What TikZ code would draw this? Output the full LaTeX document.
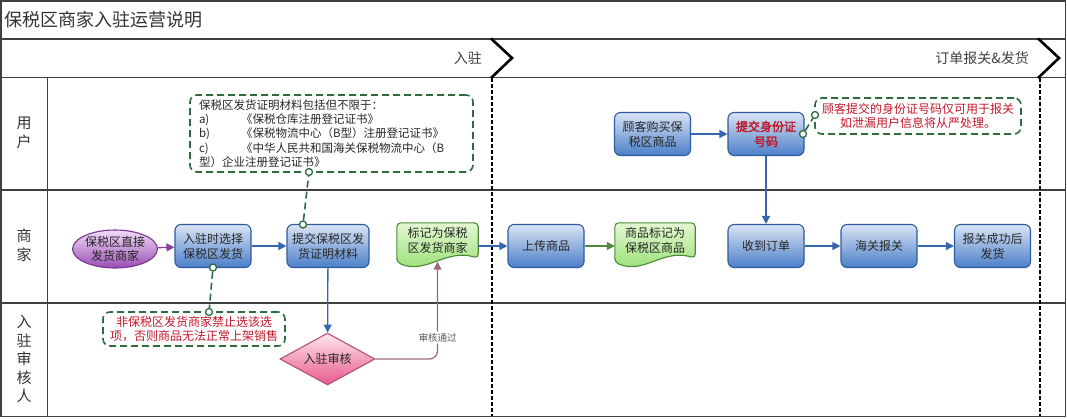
\documentclass[tikz,border=0pt]{standalone}
\usepackage{fontspec}
\setmainfont{Noto Sans CJK SC}
\newfontfamily\boldcjk{Noto Sans CJK SC}[FakeBold=2.5]
\usetikzlibrary{arrows.meta,shapes.geometric,calc}
\pgfdeclarelayer{bg}
\pgfsetlayers{bg,main}
\definecolor{frame}{HTML}{404040}
\definecolor{boxtop}{HTML}{DAE4F3}
\definecolor{boxbot}{HTML}{4A7FC9}
\definecolor{boxline}{HTML}{2F5B9E}
\definecolor{arrowblue}{HTML}{3566B0}
\definecolor{doctop}{HTML}{E4F8D2}
\definecolor{docbot}{HTML}{90DC6A}
\definecolor{docline}{HTML}{4C8A35}
\definecolor{arrowgreen}{HTML}{4E8A3C}
\definecolor{elltop}{HTML}{F0DCF6}
\definecolor{ellbot}{HTML}{9A4DB3}
\definecolor{elline}{HTML}{7A3592}
\definecolor{arrowpurple}{HTML}{8A3FA0}
\definecolor{dtop}{HTML}{FDE6EE}
\definecolor{dbot}{HTML}{E8588C}
\definecolor{dline}{HTML}{B25275}
\definecolor{mauve}{HTML}{9B6A7A}
\definecolor{callgreen}{HTML}{2E6B3F}
\definecolor{redtext}{HTML}{C0182A}
\begin{document}
\begin{tikzpicture}[x=1pt,y=-1pt,
  bluebox/.style={draw=boxline,line width=1.1pt,rounded corners=6pt,top color=boxtop,bottom color=boxbot,minimum width=76pt,minimum height=43pt,align=center,inner sep=1pt,text=black!85,font=\fontsize{12}{15}\selectfont},
  docnode/.style={minimum width=81pt,minimum height=35pt,align=center,inner sep=1pt,text=black!85,font=\fontsize{12}{15}\selectfont},
  docshape/.style={draw=docline,line width=1.1pt,top color=doctop,bottom color=docbot,rounded corners=4pt},
  ellnode/.style={ellipse,draw=elline,line width=1.1pt,top color=elltop,bottom color=ellbot,minimum width=76pt,minimum height=38pt,inner sep=0pt,align=center,font=\fontsize{12}{14}\selectfont,text=black!85},
  diam/.style={diamond,draw=dline,line width=1.1pt,top color=dtop,bottom color=dbot,minimum width=95pt,minimum height=52pt,inner sep=0pt,aspect=1.8,font=\fontsize{12}{14}\selectfont,text=black!85},
  callout/.style={draw=callgreen,line width=1.6pt,dash pattern=on 7pt off 4pt,rounded corners=7pt,inner sep=2pt},
  endc/.style={circle,draw=callgreen,fill=white,line width=1.3pt,minimum size=7pt,inner sep=0pt},
  calline/.style={draw=callgreen,line width=1.6pt,dash pattern=on 7pt off 4pt},
  flow/.style={draw=arrowblue,line width=1.3pt,-{Triangle[length=8pt,width=8pt]}},
  lanelabel/.style={font=\fontsize{15}{18.5}\selectfont,align=center,text=black!80},
  frameline/.style={draw=frame,line width=1.5pt},
  phase/.style={anchor=east,font=\fontsize{14}{16}\selectfont,text=black!75,inner sep=0pt},
  chev/.style={line width=2.6pt,line join=miter},
  dotline/.style={line width=2.6pt,dash pattern=on 3.5pt off 2.5pt},
]
\useasboundingbox (0,0) rectangle (1067,418);
% frame
\draw[frameline] (0.75,0.75) rectangle (1065.5,416.5);
\draw[frameline] (0.75,39) -- (1065.5,39);
\draw[frameline] (0.75,77.5) -- (1065.5,77.5);
\draw[frameline] (0.75,190) -- (1065.5,190);
\draw[frameline] (0.75,303) -- (1065.5,303);
\draw[frameline] (47.5,77.5) -- (47.5,416.5);
% title and phases
\node[anchor=west,font=\fontsize{18}{20}\selectfont,text=black!80,inner sep=0pt] (title) at (4,20) {保税区商家入驻运营说明};
\node[phase] (ph1) at (482,58) {入驻};
\node[phase] (ph2) at (1029,58) {订单报关\&发货};
\draw[chev] (491,38.5) -- (512,58) -- (491,78);
\draw[chev] (1038,38.5) -- (1059,58) -- (1038,78);
\draw[dotline] (492,78) -- (492,416);
\draw[dotline] (1040,78) -- (1040,416);
% lane labels
\node[lanelabel] (l1) at (24,133) {用\\户};
\node[lanelabel] (l2) at (24,245) {商\\家};
\node[lanelabel] (l3) at (24,359) {入\\驻\\审\\核\\人};
% merchant lane
\node[ellnode] (m0) at (115,249) {保税区直接\\发货商家};
\node[bluebox] (m1) at (213,246) {入驻时选择\\保税区发货};
\node[bluebox,minimum width=82pt] (m2) at (328,246) {提交保税区发\\货证明材料};
\node[docnode] (m3) at (437.5,240.5) {标记为保税\\区发货商家};
\node[bluebox] (m4) at (546,246) {上传商品};
\node[docnode,minimum width=80pt] (m5) at (655,240.5) {商品标记为\\保税区商品};
\node[bluebox] (m6) at (766,246) {收到订单};
\node[bluebox] (m7) at (879,246) {海关报关};
\node[bluebox] (m8) at (992.5,246) {报关成功后\\发货};
% user lane
\node[bluebox] (u1) at (652.5,134) {顾客购买保\\税区商品};
\node[bluebox,text=redtext,font=\boldcjk\fontsize{12}{15}\selectfont] (u2) at (766,134) {提交身份证\\号码};
% reviewer lane
\node[diam] (r1) at (327.5,359) {入驻审核};
% document shapes
\begin{pgfonlayer}{bg}
\foreach \d in {m3,m5}{
  \path[docshape] ($(\d.south west)+(0,4)$) -- (\d.north west) -- (\d.north east) -- (\d.south east)
    .. controls ($(\d.south east)!0.4!(\d.south west)+(0,-10)$) and ($(\d.south east)!0.65!(\d.south west)+(0,17)$) .. ($(\d.south west)+(0,4)$) -- cycle;
}
\end{pgfonlayer}
% flows
\draw[flow,draw=arrowpurple] (m0) -- (m1);
\draw[flow] (m1) -- (m2);
\draw[flow] (m3.east |- m4.west) -- (m4.west);
\draw[flow,draw=arrowgreen] (m4.east) -- (m5.west |- m4.east);
\draw[flow] (m6) -- (m7);
\draw[flow] (m7) -- (m8);
\draw[flow] (u1) -- (u2);
\draw[flow] (u2) -- (m6);
\draw[flow] (m2) -- (r1);
\coordinate (m3b) at ($(m3.south)+(0,3.5)$);
\draw[draw=mauve,line width=1.3pt,rounded corners=8pt,-{Triangle[length=8pt,width=8pt]}] (r1.east) -| (m3b)
  node[pos=0.61,fill=white,inner sep=1.5pt,font=\fontsize{9.5}{11}\selectfont,text=black!65] (lbl) {审核通过};
% callouts
\node[callout,minimum width=283pt,minimum height=77pt,text width=265pt,align=left,inner sep=0pt,font=\fontsize{11.5}{14.3}\selectfont,text=black!85] (c1) at (331.5,133.5)
{保税区发货证明材料包括但不限于：\\
\makebox[42pt][l]{a)}《保税仓库注册登记证书》\\
\makebox[42pt][l]{b)}《保税物流中心（B型）注册登记证书》\\
\makebox[42pt][l]{c)}《中华人民共和国海关保税物流中心（B\\
型）企业注册登记证书》};
\node[callout,minimum width=182pt,minimum height=34pt,align=center,text=redtext,font=\fontsize{12}{13.5}\selectfont] (c2) at (194,329) {非保税区发货商家禁止选该选\\项，否则商品无法正常上架销售};
\node[callout,minimum width=206pt,minimum height=36pt,align=center,text=redtext,font=\fontsize{12}{14}\selectfont] (c3) at (918,116) {顾客提交的身份证号码仅可用于报关\\如泄漏用户信息将从严处理。};
% callout connectors
\node[endc] (k1) at (213,267.5) {};
\node[endc] (k2) at (209,312) {};
\draw[calline] (k1) -- (k2);
\node[endc] (k3) at (303,224.5) {};
\node[endc] (k4) at (309,172) {};
\draw[calline] (k3) -- (k4);
\node[endc] (k5) at (803,134) {};
\node[endc] (k6) at (815,115) {};
\draw[calline] (k5) -- (k6);
\end{tikzpicture}
\end{document}
